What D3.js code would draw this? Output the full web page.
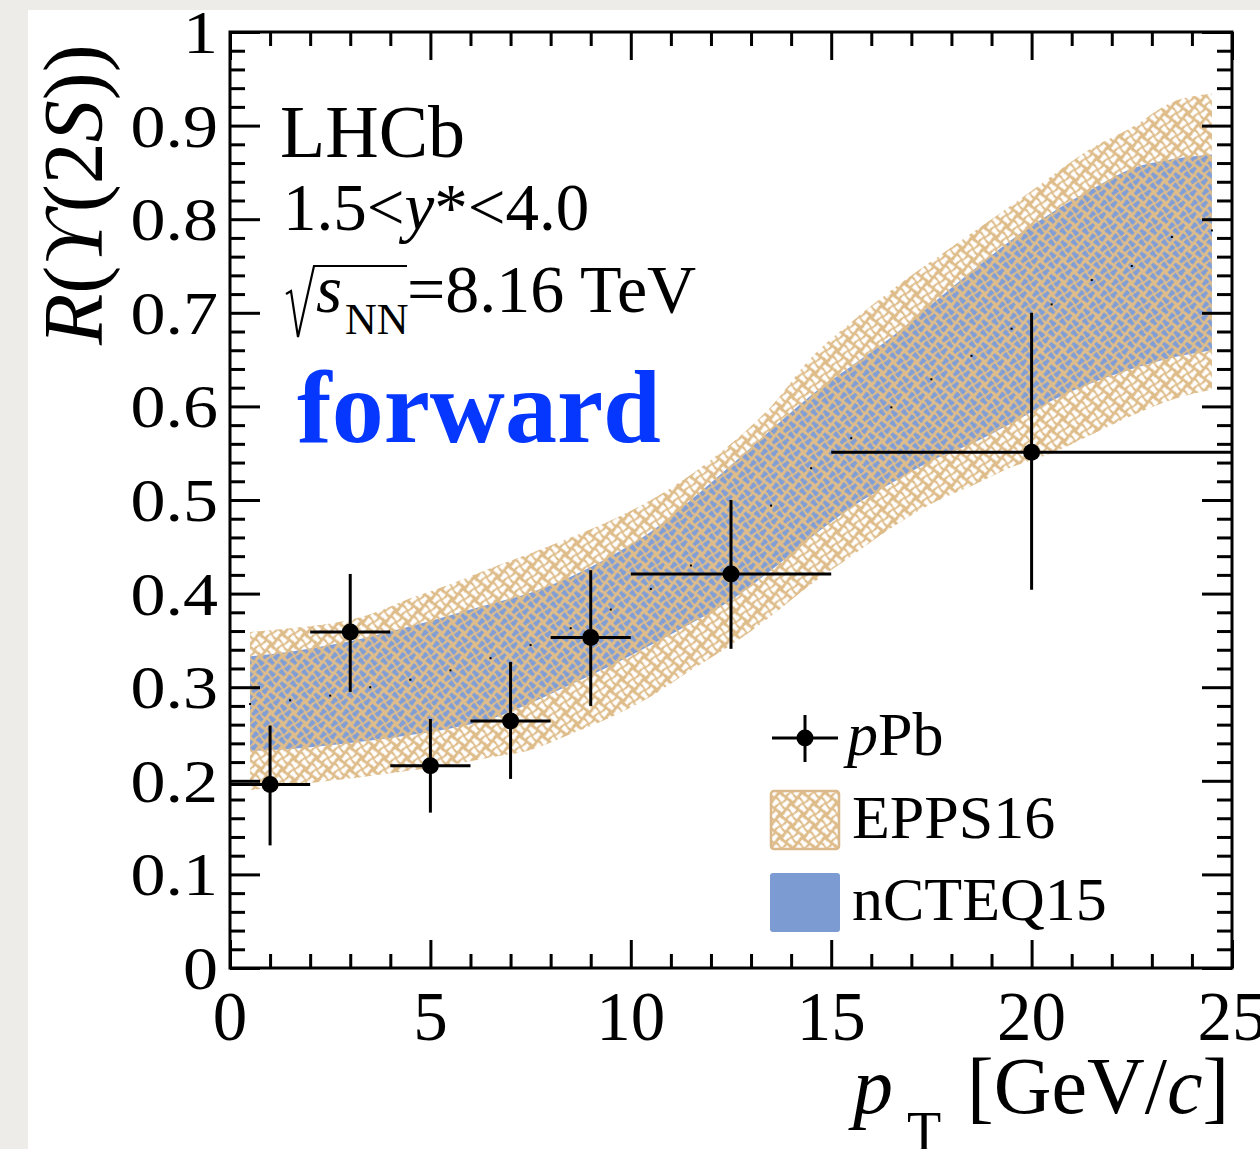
<!DOCTYPE html>
<html><head><meta charset="utf-8">
<script src="https://cdn.jsdelivr.net/npm/d3@7"></script>
<style>
html,body{margin:0;padding:0;background:#eeece9;}
svg{display:block;}
text{font-family:"Liberation Serif","Times New Roman",serif;fill:#000;}
</style></head>
<body>
<svg id="chart" width="1260" height="1149"></svg>
<script>
// ---------------- data ----------------
const pointX    = [1, 3, 5, 7, 9, 12.5, 20];
const pointXLow = [0, 2, 4, 6, 8, 10, 15];
const pointXHigh= [2, 4, 6, 8, 10, 15, 25];
const pointY    = [0.196, 0.359, 0.216, 0.264, 0.353, 0.421, 0.551];
const pointYLow = [0.131, 0.295, 0.166, 0.202, 0.280, 0.341, 0.404];
const pointYHigh= [0.259, 0.421, 0.266, 0.327, 0.425, 0.500, 0.700];

const bandX = [0.5,1.5,2.5,3.5,4.5,5.5,6.5,7.5,8.5,9.5,10.5,11.5,12.5,13.5,14.5,15.5,16.5,17.5,18.5,19.5,20.5,21.5,22.5,23.5,24.5];
const eppsUpper = [0.359,0.363,0.368,0.378,0.395,0.410,0.427,0.443,0.460,0.478,0.500,0.527,0.560,0.600,0.652,0.690,0.724,0.755,0.785,0.815,0.846,0.876,0.898,0.925,0.934];
const eppsLower = [0.190,0.195,0.200,0.205,0.211,0.217,0.225,0.233,0.250,0.268,0.290,0.318,0.345,0.376,0.410,0.440,0.470,0.496,0.515,0.535,0.550,0.570,0.590,0.607,0.618];
const ncteqUpper = [0.333,0.338,0.345,0.354,0.365,0.377,0.389,0.401,0.418,0.440,0.466,0.500,0.537,0.575,0.612,0.643,0.674,0.709,0.744,0.778,0.807,0.832,0.854,0.864,0.869];
const ncteqLower = [0.232,0.234,0.238,0.243,0.249,0.256,0.266,0.283,0.303,0.323,0.345,0.368,0.393,0.425,0.460,0.492,0.518,0.542,0.560,0.582,0.606,0.625,0.640,0.652,0.660];
const centralVals = [0.282,0.286,0.291,0.300,0.308,0.318,0.331,0.345,0.363,0.383,0.405,0.430,0.463,0.494,0.534,0.566,0.599,0.629,0.654,0.683,0.709,0.735,0.750,0.781,0.788];

const xTickLabels = [0, 5, 10, 15, 20, 25];
const yTickLabels = [0, 0.1, 0.2, 0.3, 0.4, 0.5, 0.6, 0.7, 0.8, 0.9, 1];
const legendLabels = ["EPPS16", "nCTEQ15"];

// ---------------- setup ----------------
const TAN = "#dfbd8b", BLUE = "#7f9dd6", LEG_BLUE = "#7c9bd3";
const svg = d3.select("#chart");
const x = d3.scaleLinear().domain([0, 25]).range([230, 1232]);
const y = d3.scaleLinear().domain([0, 1]).range([968, 32]);

// white card
svg.append("rect").attr("x", 28).attr("y", 10).attr("width", 1260 - 28).attr("height", 1149 - 10).attr("fill", "#fff");

// patterns
const defs = svg.append("defs");
function weave(id, bar) {
  const S = 16, c = S / 2;
  const p = defs.append("pattern").attr("id", id).attr("width", S).attr("height", S)
    .attr("patternUnits", "userSpaceOnUse").attr("patternTransform", "rotate(45)");
  p.append("rect").attr("width", S).attr("height", S).attr("fill", TAN);
  const g = p.append("g").attr("stroke", bar).attr("stroke-width", 3.5).attr("stroke-linecap", "butt");
  const m = c / 2;          // cell middle
  const segs = [
    [1, m, c - 1, m], [1.8, m - 2.4, 1.8, m + 2.4],
    [c + m, 1, c + m, c - 1], [c + m - 2.4, 1.8, c + m + 2.4, 1.8],
    [m, c + 1, m, S - 1], [m - 2.4, S - 1.8, m + 2.4, S - 1.8],
    [c + 1, c + m, S - 1, c + m], [S - 1.8, c + m - 2.4, S - 1.8, c + m + 2.4]
  ];
  segs.forEach(s => g.append("line").attr("x1", s[0]).attr("y1", s[1]).attr("x2", s[2]).attr("y2", s[3]));
}
weave("weaveE", "#ffffff");
weave("weaveN", BLUE);

// bands
const eppsData = bandX.map((v, i) => ({x: v, lo: eppsLower[i], hi: eppsUpper[i]}));
const ncData = bandX.map((v, i) => ({x: v, lo: ncteqLower[i], hi: ncteqUpper[i]}));
const area = d3.area().x(d => x(d.x)).y0(d => y(d.lo)).y1(d => y(d.hi)).curve(d3.curveMonotoneX);
svg.append("path").datum(eppsData).attr("d", area).attr("fill", "url(#weaveE)");
svg.append("path").datum(ncData).attr("d", area).attr("fill", "url(#weaveN)");

// central value dots
svg.append("g").selectAll("rect").data(bandX).join("rect")
  .attr("x", d => x(d) - 1).attr("y", (d, i) => y(centralVals[i]) - 1)
  .attr("width", 2).attr("height", 2).attr("fill", "#000");

// axes (ticks inward)
function axisGroup(axis, tx, ty) {
  const g = svg.append("g").attr("transform", `translate(${tx},${ty})`).call(axis);
  g.select(".domain").remove();
  g.selectAll(".tick line").attr("stroke", "#000").attr("stroke-width", 3);
  g.selectAll("text").remove();
  return g;
}
const xMajor = d3.range(0, 26, 5), xMinor = d3.range(0, 26, 1).filter(v => v % 5 !== 0);
const yMajor = d3.range(0, 11).map(v => v / 10), yMinor = d3.range(0, 51).map(v => v / 50).filter((v, i) => i % 5 !== 0);

axisGroup(d3.axisBottom(x).tickValues(xMajor).tickSize(-28), 0, 968);
axisGroup(d3.axisBottom(x).tickValues(xMinor).tickSize(-14), 0, 968);
axisGroup(d3.axisTop(x).tickValues(xMajor).tickSize(-28), 0, 32);
axisGroup(d3.axisTop(x).tickValues(xMinor).tickSize(-14), 0, 32);
axisGroup(d3.axisLeft(y).tickValues(yMajor).tickSize(-30), 230, 0);
axisGroup(d3.axisLeft(y).tickValues(yMinor).tickSize(-15), 230, 0);
axisGroup(d3.axisRight(y).tickValues(yMajor).tickSize(-30), 1232, 0);
axisGroup(d3.axisRight(y).tickValues(yMinor).tickSize(-15), 1232, 0);

// frame
svg.append("rect").attr("x", x(0)).attr("y", y(1)).attr("width", x(25) - x(0)).attr("height", y(0) - y(1))
  .attr("fill", "none").attr("stroke", "#000").attr("stroke-width", 3);

// tick labels
svg.append("g").selectAll("text").data(yTickLabels).join("text")
  .attr("transform", d => `translate(218,${y(d) + 21}) scale(1.13,1)`)
  .attr("text-anchor", "end").attr("font-size", 62).text(d => d3.format("")(d));
svg.append("g").selectAll("text").data(xTickLabels).join("text")
  .attr("x", d => x(d)).attr("y", 1040).attr("text-anchor", "middle").attr("font-size", 69).text(d => d);

// axis titles
const yt = svg.append("text").attr("transform", "translate(102,345) rotate(-90)").attr("font-size", 84);
yt.append("tspan").attr("font-style", "italic").text("R");
yt.append("tspan").text("(");
yt.append("tspan").attr("font-style", "italic").text("\u03D2");
yt.append("tspan").text("(2");
yt.append("tspan").attr("font-style", "italic").text("S");
yt.append("tspan").text("))");

svg.append("text").attr("x", 853).attr("y", 1113).attr("font-size", 80).attr("font-style", "italic").text("p");
svg.append("text").attr("x", 907).attr("y", 1151).attr("font-size", 56).text("T");
const xt = svg.append("text").attr("x", 967).attr("y", 1113).attr("font-size", 80);
xt.append("tspan").text("[GeV/");
xt.append("tspan").attr("font-style", "italic").text("c");
xt.append("tspan").text("]");

// labels
svg.append("text").attr("x", 280).attr("y", 157).attr("font-size", 74).text("LHCb");
const t2 = svg.append("text").attr("x", 283).attr("y", 230).attr("font-size", 67);
t2.append("tspan").text("1.5<");
t2.append("tspan").attr("font-style", "italic").text("y");
t2.append("tspan").text("*<4.0");
svg.append("path").attr("d", "M286,294 L291,291 L298,337 L314,266 L407,266")
  .attr("fill", "none").attr("stroke", "#000").attr("stroke-width", 2.2).attr("stroke-linejoin", "miter");
svg.append("text").attr("x", 316).attr("y", 312).attr("font-size", 67).attr("font-style", "italic").text("s");
svg.append("text").attr("x", 345).attr("y", 334).attr("font-size", 44).text("NN");
svg.append("text").attr("x", 407).attr("y", 312).attr("font-size", 68).text("=8.16 TeV");
svg.append("text").attr("x", 297).attr("y", 442).attr("font-size", 104).attr("font-weight", "bold")
  .style("fill", "#0537ff").text("forward");

// data points
const pts = pointX.map((v, i) => ({x: v, xl: pointXLow[i], xh: pointXHigh[i], y: pointY[i], yl: pointYLow[i], yh: pointYHigh[i]}));
const pg = svg.append("g").attr("stroke", "#000").attr("stroke-width", 3);
pg.selectAll("line.h").data(pts).join("line").attr("class", "h")
  .attr("x1", d => x(d.xl)).attr("x2", d => x(d.xh)).attr("y1", d => y(d.y)).attr("y2", d => y(d.y));
pg.selectAll("line.v").data(pts).join("line").attr("class", "v")
  .attr("x1", d => x(d.x)).attr("x2", d => x(d.x)).attr("y1", d => y(d.yl)).attr("y2", d => y(d.yh));
svg.append("g").selectAll("circle").data(pts).join("circle")
  .attr("cx", d => x(d.x)).attr("cy", d => y(d.y)).attr("r", 8.5).attr("fill", "#000");

// legend
const lg = svg.append("g");
lg.append("line").attr("x1", 772).attr("x2", 838).attr("y1", 738).attr("y2", 738).attr("stroke", "#000").attr("stroke-width", 3);
lg.append("line").attr("x1", 805).attr("x2", 805).attr("y1", 715).attr("y2", 762).attr("stroke", "#000").attr("stroke-width", 3);
lg.append("circle").attr("cx", 805).attr("cy", 738).attr("r", 8.5).attr("fill", "#000");
const lt = lg.append("text").attr("x", 847).attr("y", 755).attr("font-size", 62);
lt.append("tspan").attr("font-style", "italic").text("p");
lt.append("tspan").text("Pb");
lg.append("rect").attr("x", 771).attr("y", 791).attr("width", 68).attr("height", 58).attr("rx", 3)
  .attr("fill", "url(#weaveE)").attr("stroke", "#dcb98a").attr("stroke-width", 2.5);
lg.append("rect").attr("x", 770).attr("y", 873).attr("width", 70).attr("height", 59).attr("rx", 3).attr("fill", LEG_BLUE);
lg.append("text").attr("x", 852).attr("y", 838).attr("font-size", 62).text(legendLabels[0]);
lg.append("text").attr("x", 852).attr("y", 920).attr("font-size", 62).text(legendLabels[1]);
</script>
</body></html>
